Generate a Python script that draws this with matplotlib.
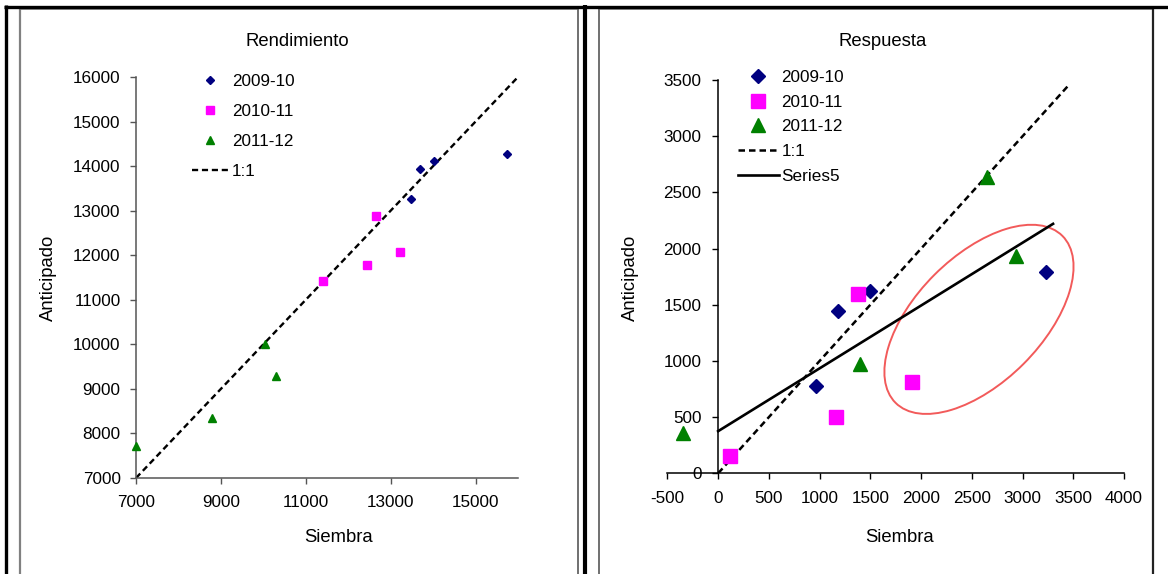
import matplotlib
matplotlib.use("Agg")
import matplotlib.pyplot as plt
import matplotlib.transforms as mtransforms
from matplotlib import font_manager
from matplotlib.lines import Line2D
from matplotlib.patches import Ellipse

installed = {f.name for f in font_manager.fontManager.ttflist}
if "Liberation Sans Narrow" in installed:
    FAMILY = ["Liberation Sans Narrow", "DejaVu Sans"]
    FS, FS_LAB = 13.5, 14.5
else:
    FAMILY = ["Liberation Sans", "DejaVu Sans"]
    FS, FS_LAB = 12.3, 13.3
plt.rcParams["font.family"] = FAMILY
plt.rcParams["axes.unicode_minus"] = False

# ---- Rendimiento (yield) ----
rend_0910_x = [13480, 13700, 14010, 15750]
rend_0910_y = [13270, 13940, 14110, 14280]
rend_1011_x = [11400, 12450, 12660, 13210]
rend_1011_y = [11430, 11780, 12870, 12080]
rend_1112_x = [7010, 8780, 10030, 10310]
rend_1112_y = [7720, 8340, 10010, 9290]
rend_line = [7000, 16000]
rend_xticks = [7000, 9000, 11000, 13000, 15000]
rend_yticks = [7000, 8000, 9000, 10000, 11000, 12000, 13000, 14000, 15000, 16000]

# ---- Respuesta (response) ----
resp_0910_x = [965, 1185, 1495, 3230]
resp_0910_y = [777, 1447, 1625, 1790]
resp_1011_x = [120, 1163, 1380, 1915]
resp_1011_y = [155, 504, 1600, 810]
resp_1112_x = [-350, 1400, 2650, 2935]
resp_1112_y = [356, 970, 2640, 1930]
resp_line = [0, 3460]
series5_x = [0, 3300]
series5_y = [375, 2220]
resp_xticks = [-500, 0, 500, 1000, 1500, 2000, 2500, 3000, 3500, 4000]
resp_yticks = [0, 500, 1000, 1500, 2000, 2500, 3000, 3500]

seasons = ["2009-10", "2010-11", "2011-12"]
NAVY, MAGENTA, GREEN = "#000080", "#FF00FF", "#008000"

W, H = 1168, 574
fig = plt.figure(figsize=(W / 100, H / 100), dpi=100)
PX = 100 / 72  # pixels per point
FPX = FS * PX   # tick/legend font size in pixels


def fx(px):
    return px / W


def fy(py):
    return 1 - py / H


def frame_line(x0, y0, x1, y1, color, lw):
    fig.add_artist(Line2D([fx(x0), fx(x1)], [fy(y0), fy(y1)], transform=fig.transFigure,
                          color=color, lw=lw, solid_capstyle="butt"))


def spacing(row_px):
    # legend labelspacing (in font sizes) that gives the requested row pitch
    return (row_px - FPX * 0.95) / FPX


# table-like frames around the two charts
frame_line(20, 8.5, 578, 8.5, "#909090", 1.4)
frame_line(20, 8, 20, 574, "#808080", 1.6)
frame_line(578, 8, 578, 574, "#707070", 1.4)
frame_line(599, 8.5, 1153, 8.5, "#909090", 1.4)
frame_line(599, 8, 599, 574, "#707070", 1.4)
frame_line(1153, 8, 1153, 574, "#222222", 1.6)
frame_line(4, 6.5, 1168, 6.5, "black", 2.4)
frame_line(6, 5, 6, 574, "black", 2.4)
frame_line(585, 5, 585, 574, "black", 3.0)

# ---------------- left chart ----------------
ax1 = fig.add_axes([fx(136), fy(478), (518 - 136) / W, (478 - 77) / H])
ax1.plot(rend_line, rend_line, ls=(0, (2.6, 1.6)), color="black", lw=1.7, label="1:1", zorder=2)
ax1.plot(rend_0910_x, rend_0910_y, ls="none", marker="D", ms=4.4, color=NAVY, label=seasons[0], clip_on=False, zorder=3)
ax1.plot(rend_1011_x, rend_1011_y, ls="none", marker="s", ms=5.6, color=MAGENTA, label=seasons[1], clip_on=False, zorder=3)
ax1.plot(rend_1112_x, rend_1112_y, ls="none", marker="^", ms=5.8, color=GREEN, label=seasons[2], clip_on=False, zorder=3)
ax1.set_xlim(7000, 16000)
ax1.set_ylim(7000, 16000)
ax1.set_xticks(rend_xticks)
ax1.set_yticks(rend_yticks)
for s in ("top", "right"):
    ax1.spines[s].set_visible(False)
for s in ("left", "bottom"):
    ax1.spines[s].set_color("#555555")
    ax1.spines[s].set_linewidth(1.1)
ax1.tick_params(axis="x", direction="out", length=4, width=1, color="#555555", pad=8.5, labelsize=FS)
ax1.tick_params(axis="y", direction="out", length=4, width=1, color="#555555", pad=7, labelsize=FS)
ax1.set_facecolor("none")

h1, l1 = ax1.get_legend_handles_labels()
order = [1, 2, 3, 0]
ax1.legend([h1[i] for i in order], [l1[i] for i in order], loc="upper left",
           bbox_to_anchor=(fx(192), fy(80.5 - FPX * 0.39)), bbox_transform=fig.transFigure,
           frameon=False, fontsize=FS, handlelength=36 / FPX, handletextpad=4 / FPX,
           labelspacing=spacing(31.3), borderpad=0, borderaxespad=0)

fig.text(fx(297), fy(42), "Rendimiento", ha="center", va="center", fontsize=FS_LAB)
fig.text(fx(48), fy(278), "Anticipado", ha="center", va="center", rotation=90, fontsize=FS_LAB)
fig.text(fx(339), fy(537.5), "Siembra", ha="center", va="center", fontsize=FS_LAB)

# ---------------- right chart ----------------
ax2 = fig.add_axes([fx(667.4), fy(473.3), (1124.1 - 667.4) / W, (473.3 - 80) / H])
ax2.plot(resp_line, resp_line, ls=(0, (2.6, 1.6)), color="black", lw=1.8, label="1:1", zorder=2)
ax2.plot(series5_x, series5_y, ls="-", color="black", lw=1.9, label="Series5", zorder=2)
ax2.plot(resp_0910_x, resp_0910_y, ls="none", marker="D", ms=7.4, color=NAVY, label=seasons[0], clip_on=False, zorder=3)
ax2.plot(resp_1011_x, resp_1011_y, ls="none", marker="s", ms=9.6, color=MAGENTA, label=seasons[1], clip_on=False, zorder=3)
ax2.plot(resp_1112_x, resp_1112_y, ls="none", marker="^", ms=10, color=GREEN, label=seasons[2], clip_on=False, zorder=3)
ax2.set_xlim(-500, 4000)
ax2.set_ylim(0, 3500)
ax2.set_xticks(resp_xticks)
ax2.set_yticks(resp_yticks)
ax2.spines["left"].set_position(("data", 0))
for s in ("top", "right"):
    ax2.spines[s].set_visible(False)
for s in ("left", "bottom"):
    ax2.spines[s].set_color("black")
    ax2.spines[s].set_linewidth(1.1)
ax2.tick_params(axis="x", direction="out", length=4.5, width=1, pad=8.5, labelsize=FS)
ax2.tick_params(axis="y", direction="out", length=4.5, width=1, pad=7.5, labelsize=FS)
ax2.set_facecolor("none")

# highlighted cluster, drawn in screen pixels around a data-space centre
ell = Ellipse((0, 0), 236, 126, angle=45, fill=False, edgecolor="#f25a5a", lw=1.4,
              transform=mtransforms.ScaledTranslation(2570, 1370, ax2.transData), zorder=1)
ax2.add_artist(ell)

h2, l2 = ax2.get_legend_handles_labels()
order2 = [2, 3, 4, 0, 1]
ax2.legend([h2[i] for i in order2], [l2[i] for i in order2], loc="upper left",
           bbox_to_anchor=(fx(738), fy(76.5 - FPX * 0.39)), bbox_transform=fig.transFigure,
           frameon=False, fontsize=FS, handlelength=40.5 / FPX, handletextpad=3 / FPX,
           labelspacing=spacing(25.9), borderpad=0, borderaxespad=0)

fig.text(fx(883), fy(42), "Respuesta", ha="center", va="center", fontsize=FS_LAB)
fig.text(fx(630.5), fy(278), "Anticipado", ha="center", va="center", rotation=90, fontsize=FS_LAB)
fig.text(fx(900), fy(537.5), "Siembra", ha="center", va="center", fontsize=FS_LAB)

fig.savefig("out.png", dpi=100)
